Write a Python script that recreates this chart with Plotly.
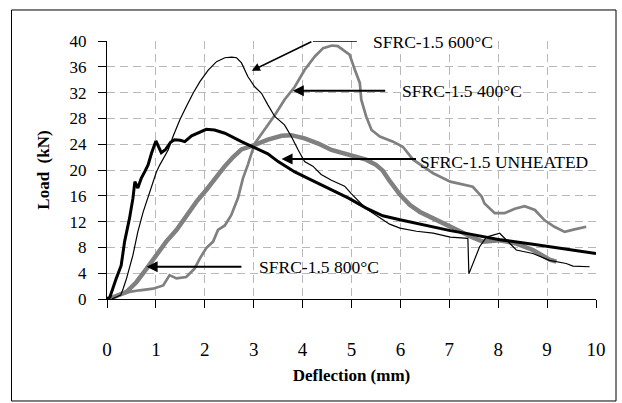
import plotly.graph_objects as go

# ---- data ----
unheated_x = [0, 0.06, 0.19, 0.29, 0.36, 0.46, 0.53, 0.57, 0.63, 0.70, 0.77, 0.84, 0.91, 1.0, 1.11, 1.2, 1.3, 1.38, 1.5, 1.59, 1.73, 2.03, 2.2, 2.41, 2.75, 3.02, 3.29, 3.5, 3.6, 3.84, 4.11, 4.38, 4.66, 4.95, 5.3, 5.64, 5.99, 6.33, 6.67, 7.02, 7.4, 8.03, 8.71, 9.39, 10.0]
unheated_y = [0, 0.3, 3.2, 5.2, 8.9, 12.5, 15.6, 18.2, 17.2, 18.7, 19.7, 20.8, 22.6, 24.5, 22.7, 23.2, 24.3, 24.7, 24.6, 24.4, 25.3, 26.3, 26.2, 25.7, 24.4, 23.5, 22.5, 21.3, 20.8, 19.7, 18.7, 17.7, 16.6, 15.6, 14.1, 12.9, 12.3, 11.7, 11.2, 10.6, 10.1, 9.2, 8.5, 7.7, 7.05]

t600_x = [0.1, 0.28, 0.33, 0.4, 0.53, 0.63, 0.74, 0.87, 1.01, 1.08, 1.25, 1.35, 1.49, 1.62, 1.76, 1.9, 2.07, 2.24, 2.41, 2.55, 2.65, 2.75, 2.88, 3.02, 3.16, 3.29, 3.43, 3.63, 3.77, 3.91, 4.04, 4.21, 4.38, 4.59, 4.86, 5.0, 5.17, 5.3, 5.44, 5.78, 5.99, 6.33, 6.67, 7.02, 7.38, 7.4, 7.62, 7.76, 8.03, 8.17, 8.37, 8.71, 9.05, 9.39, 9.53, 9.87]
t600_y = [0, 0.6, 1.6, 3.2, 6.8, 10.4, 13.5, 16.6, 19.7, 20.8, 23.1, 25.2, 27.8, 29.8, 31.9, 33.7, 35.5, 36.8, 37.4, 37.5, 37.4, 36.6, 34.5, 32.9, 31.9, 30.1, 28.3, 27.0, 25.2, 23.1, 21.3, 20.6, 19.3, 18.4, 17.5, 16.3, 15.0, 14.0, 13.3, 11.6, 11.0, 10.5, 10.2, 9.6, 9.4, 3.9, 8.1, 9.6, 10.2, 9.1, 7.6, 7.05, 6.0, 5.5, 5.1, 5.0]

t400_x = [0, 0.2, 0.46, 0.67, 0.94, 1.15, 1.28, 1.42, 1.62, 1.79, 1.9, 2.03, 2.17, 2.27, 2.41, 2.54, 2.68, 2.78, 2.88, 3.02, 3.22, 3.43, 3.63, 3.84, 4.04, 4.25, 4.42, 4.6, 4.72, 4.86, 4.96, 5.07, 5.17, 5.2, 5.3, 5.41, 5.58, 5.85, 6.05, 6.26, 6.67, 7.02, 7.21, 7.48, 7.66, 7.72, 7.93, 8.13, 8.34, 8.54, 8.75, 8.95, 9.15, 9.36, 9.56, 9.8]
t400_y = [0, 0.5, 1.1, 1.35, 1.6, 2.1, 3.7, 3.2, 3.4, 4.7, 6.3, 7.9, 8.9, 10.7, 11.4, 13.0, 15.7, 18.7, 20.8, 24.1, 26.2, 28.5, 30.9, 32.9, 35.5, 37.6, 38.9, 39.3, 39.2, 38.4, 37.9, 35.5, 33.5, 30.9, 28.3, 26.2, 25.2, 24.4, 23.6, 21.6, 19.5, 18.2, 17.9, 17.4, 15.9, 14.8, 13.3, 13.3, 14.0, 14.4, 13.8, 12.2, 11.2, 10.4, 10.8, 11.2]

t800_x = [0, 0.06, 0.4, 0.6, 0.81, 1.01, 1.21, 1.42, 1.62, 1.83, 2.03, 2.24, 2.41, 2.58, 2.75, 3.02, 3.29, 3.57, 3.77, 4.04, 4.32, 4.59, 4.9, 5.3, 5.5, 5.64, 5.78, 5.99, 6.19, 6.4, 6.67, 6.94, 7.22, 7.49, 7.69, 8.03, 8.37, 8.71, 9.05, 9.19]
t800_y = [0, 0.06, 1.1, 2.6, 4.7, 6.8, 8.9, 10.7, 13.0, 15.1, 16.9, 19.0, 20.6, 22.0, 23.2, 23.9, 24.7, 25.3, 25.4, 24.9, 24.1, 23.1, 22.5, 21.6, 20.8, 19.9, 18.3, 16.2, 14.6, 13.5, 12.5, 11.5, 10.4, 9.5, 8.9, 9.1, 8.6, 7.6, 6.1, 5.8]

x_ticks = [0, 1, 2, 3, 4, 5, 6, 7, 8, 9, 10]
y_ticks = [0, 4, 8, 12, 16, 20, 24, 28, 32, 36, 40]

labels = ["SFRC-1.5 600°C", "SFRC-1.5 400°C", "SFRC-1.5 UNHEATED", "SFRC-1.5 800°C"]
# arrow head (x, y), tail (x, y), label position (x, y)
arrow_head = [(2.96, 35.4), (3.80, 32.3), (3.57, 21.7), (0.81, 5.0)]
arrow_tail = [(4.21, 40.0), (5.72, 32.3), (6.35, 21.7), (2.78, 5.0)]
label_pos = [(5.40, 39.9), (5.99, 32.2), (6.36, 21.3), (3.06, 5.0)]
elbow_end_x = 5.11  # horizontal leader for 600°C

FONT = "Liberation Serif, Times New Roman, serif"
GRAY = "#808080"

fig = go.Figure()
fig.add_trace(go.Scatter(x=t800_x, y=t800_y, mode="lines", line=dict(color=GRAY, width=4.5), name="800"))
fig.add_trace(go.Scatter(x=t400_x, y=t400_y, mode="lines", line=dict(color=GRAY, width=2.7), name="400"))
fig.add_trace(go.Scatter(x=unheated_x, y=unheated_y, mode="lines", line=dict(color="black", width=3), name="unheated"))
fig.add_trace(go.Scatter(x=t600_x, y=t600_y, mode="lines", line=dict(color="black", width=1.2), name="600"))

annotations = []
for i, lab in enumerate(labels):
    hx, hy = arrow_head[i]
    tx, ty = arrow_tail[i]
    annotations.append(dict(x=hx, y=hy, ax=tx, ay=ty, xref="x", yref="y", axref="x", ayref="y",
                            text="", showarrow=True, arrowhead=2, arrowsize=1.1,
                            arrowwidth=1.5 if i == 0 else 2, arrowcolor="black", standoff=0, startstandoff=0))
    lx, ly = label_pos[i]
    annotations.append(dict(x=lx, y=ly, xref="x", yref="y", text=lab, showarrow=False,
                            xanchor="left", yanchor="middle", font=dict(family=FONT, size=17.5, color="black")))

shapes = [
    dict(type="line", xref="x", yref="y", x0=arrow_tail[0][0], y0=arrow_tail[0][1], x1=elbow_end_x, y1=arrow_tail[0][1],
         line=dict(color="black", width=1.5)),
    dict(type="rect", xref="paper", yref="paper", x0=-0.1953, x1=1.0409, y0=-0.3953, y1=1.1202,
         line=dict(color="black", width=1)),
]

fig.update_layout(
    width=622, height=403,
    margin=dict(l=107, r=26, t=41, b=104),
    paper_bgcolor="white", plot_bgcolor="white",
    showlegend=False,
    annotations=annotations, shapes=shapes,
    font=dict(family=FONT, color="black"),
)
fig.update_xaxes(
    range=[0, 10], tickvals=x_ticks, ticktext=[str(v) for v in x_ticks],
    showline=True, linecolor="black", linewidth=1,
    ticks="outside", ticklen=8, tickcolor="black", tickwidth=1,
    ticklabelstandoff=25,
    tickfont=dict(family=FONT, size=19, color="black"),
    showgrid=True, gridcolor="#b8b8b8", gridwidth=1, griddash="8px,5px",
    zeroline=False,
    title=dict(text="<b>Deflection (mm)</b>", font=dict(family=FONT, size=17, color="black"), standoff=10),
)
fig.update_yaxes(
    range=[0, 40], tickvals=y_ticks, ticktext=[str(v) for v in y_ticks],
    showline=True, linecolor="black", linewidth=1,
    ticks="outside", ticklen=8, tickcolor="black", tickwidth=1,
    ticklabelstandoff=8,
    tickfont=dict(family=FONT, size=17, color="black"),
    showgrid=True, gridcolor="#b8b8b8", gridwidth=1, griddash="8px,5px",
    zeroline=False,
    title=dict(text="<b>Load\u00a0 (kN)</b>", font=dict(family=FONT, size=17, color="black"), standoff=15),
)

fig.write_html("out.html")
